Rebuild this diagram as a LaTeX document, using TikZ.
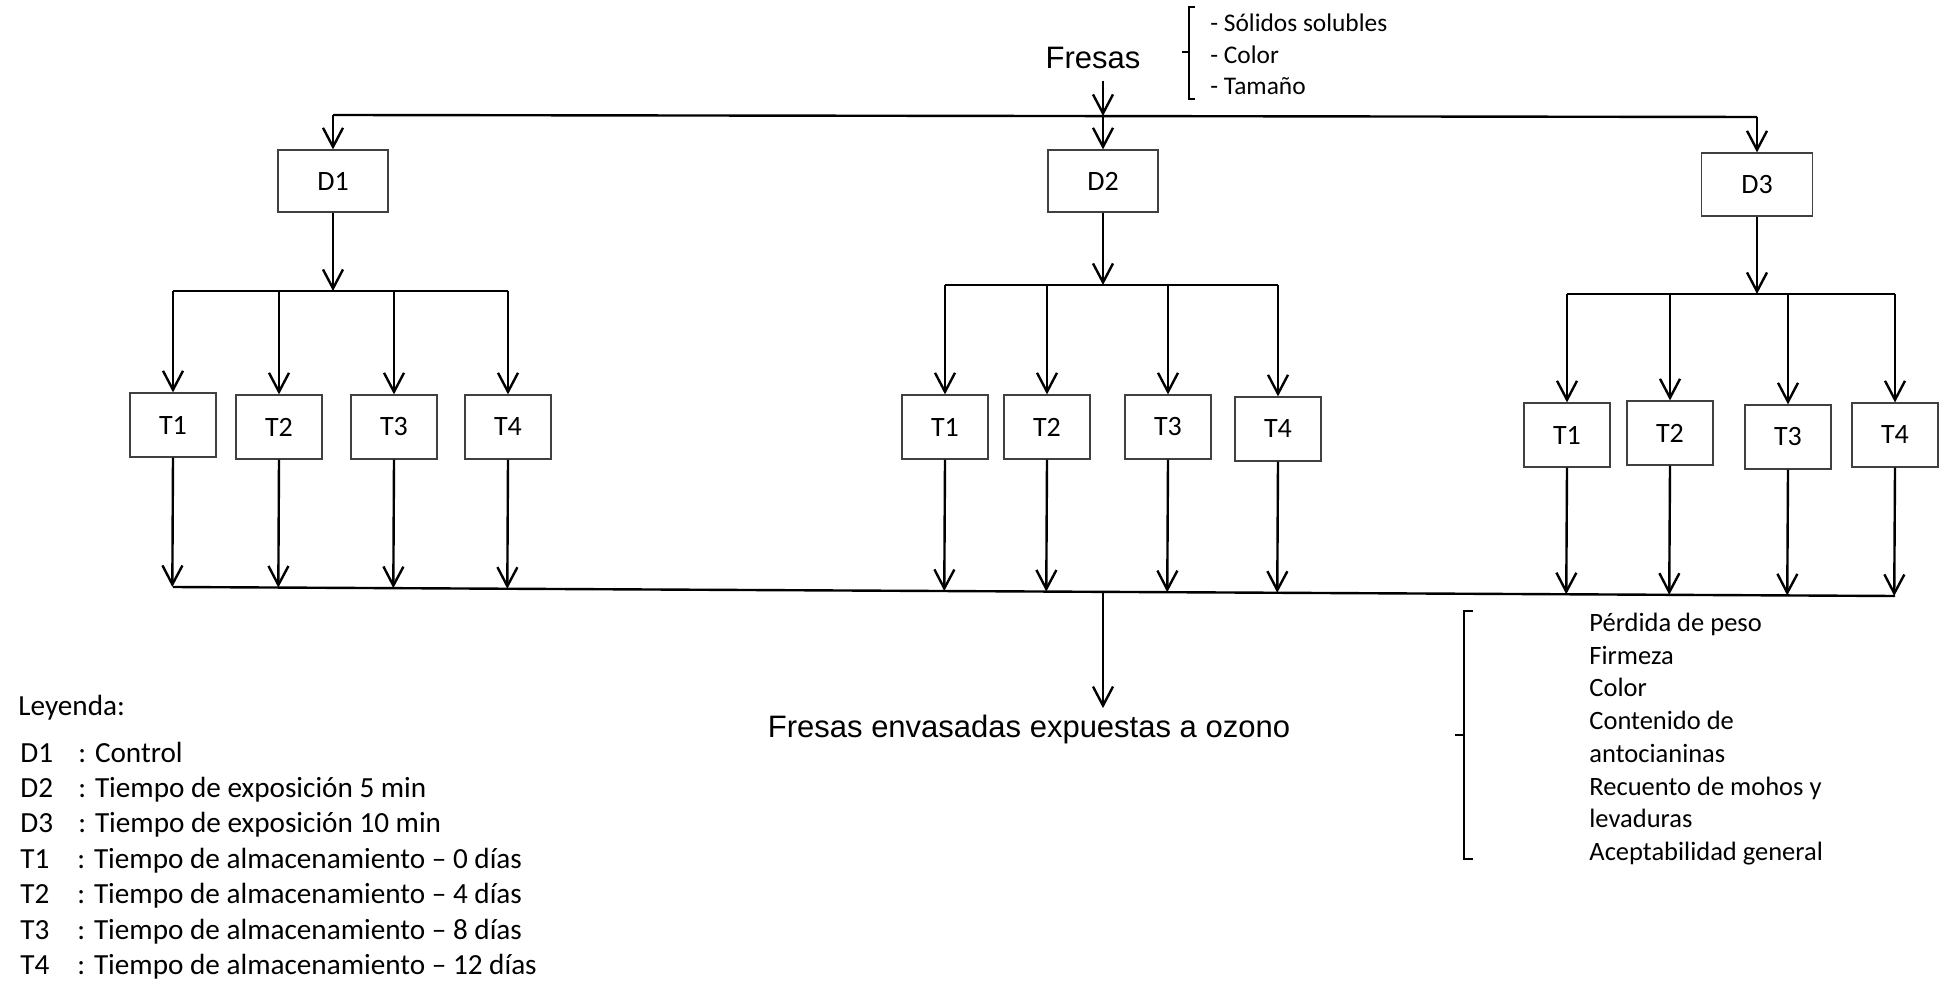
\documentclass[tikz,border=0pt]{standalone}
\usepackage{fontspec}
\setmainfont{Carlito}
\newfontfamily\arialf{Liberation Sans}
\usetikzlibrary{arrows.meta,calc}
\begin{document}
\begin{tikzpicture}[x=0.5pt,y=-0.5pt,
  conn/.style={line width=1.2pt},
  arr/.style={conn,-{Straight Barb[length=9.5pt,width=10pt]}},
  dbox/.style={draw=black!75,line width=0.6pt,minimum width=55pt,minimum height=31pt,inner sep=0pt,font=\fontsize{14}{16}\selectfont},
  tbox/.style={dbox,minimum width=43pt,minimum height=32pt},
  brk/.style={line width=0.8pt},
  leg/.style={anchor=base west,inner sep=0pt,font=\fontsize{14.6}{17}\selectfont},
  lst/.style={anchor=base west,inner sep=0pt,font=\fontsize{13.25}{16}\selectfont},
  toplist/.style={anchor=base west,inner sep=0pt,font=\fontsize{12.7}{15}\selectfont},
  big/.style={anchor=base,inner sep=0pt,font=\arialf\fontsize{15.5}{18}\selectfont}
]
\useasboundingbox (0,0) rectangle (1953,983);

% top
\node[big] (fresas) at (1093,69) {Fresas};
\coordinate (tl) at (333,115);
\coordinate (tm) at (1103,116);
\coordinate (tr) at (1757,117);
\draw[arr,shorten <=5.5pt] (fresas.south -| tm) -- (tm);
\draw[conn] (tl) -- (tr);

\node[toplist] (s1) at (1210,32) {- Sólidos solubles};
\node[toplist] (s2) at (1210,63.5) {- Color};
\node[toplist] (s3) at (1210,95) {- Tamaño};
\draw[brk] (1195,7) -- (1189,7) -- (1189,99) -- (1195,99);
\draw[brk] (1189,52) -- (1182,52);

% D boxes
\node[dbox] (D1) at (333,181) {D1};
\node[dbox] (D2) at (1103,181) {D2};
\node[dbox,minimum width=55.5pt,minimum height=31.5pt] (D3) at (1757,184.5) {D3};
\draw[arr] (tl) -- (D1.north);
\draw[arr] (tm) -- (D2.north);
\draw[arr] (tr) -- (D3.north);

% bars
\coordinate (b1) at (333,291);
\coordinate (b2) at (1103,285);
\coordinate (b3) at (1757,294);
\draw[arr] (D1.south) -- (b1);
\draw[arr] (D2.south) -- (b2);
\draw[arr] (D3.south) -- (b3);

% T boxes
\node[tbox] (T11) at (173,425) {T1};
\node[tbox] (T12) at (279,427) {T2};
\node[tbox] (T13) at (394,427) {T3};
\node[tbox] (T14) at (508,427) {T4};
\node[tbox] (T21) at (945,427) {T1};
\node[tbox] (T22) at (1047,427) {T2};
\node[tbox] (T23) at (1168,427) {T3};
\node[tbox] (T24) at (1278,429) {T4};
\node[tbox] (T31) at (1567,435) {T1};
\node[tbox] (T32) at (1670,433) {T2};
\node[tbox] (T33) at (1788,437) {T3};
\node[tbox] (T34) at (1895,435) {T4};

\foreach \g in {1,2,3}{
  \draw[conn] (T\g1 |- b\g) -- (T\g4 |- b\g);
  \foreach \j in {1,...,4}{
    \draw[arr] (T\g\j |- b\g) -- (T\g\j.north);
  }
}

% bottom line
\coordinate (bl) at (173,587);
\coordinate (br) at (1895,596);
\draw[conn] (bl) -- (br);
\foreach \g in {1,2,3}{
  \foreach \j in {1,...,4}{
    \draw[arr] (T\g\j.south) -- ($(bl)!(T\g\j.south)!(br)$);
  }
}
\coordinate (bm) at (1103,592);
\node[big] (out) at (1029,737) {Fresas envasadas expuestas a ozono};
\draw[arr,shorten >=3pt] (bm) -- (bm |- out.north);

% right list
\draw[brk] (1473,611) -- (1464,611) -- (1464,859) -- (1473,859);
\draw[brk] (1464,735) -- (1455,735);
\node[lst] (r1) at (1589,631.5) {Pérdida de peso};
\node[lst] (r2) at (1589,664.2) {Firmeza};
\node[lst] (r3) at (1589,696.9) {Color};
\node[lst] (r4) at (1589,729.6) {Contenido de};
\node[lst] (r5) at (1589,762.3) {antocianinas};
\node[lst] (r6) at (1589,795.0) {Recuento de mohos y};
\node[lst] (r7) at (1589,827.7) {levaduras};
\node[lst] (r8) at (1589,860.4) {Aceptabilidad general};

% legend
\node[leg] (ley) at (18,715) {Leyenda:};
\node[leg] (l1a) at (20,762) {D1};
\node[leg] (l1b) at (78,762) {: Control};
\node[leg] (l2a) at (20,797.4) {D2};
\node[leg] (l2b) at (78,797.4) {: Tiempo de exposición 5 min};
\node[leg] (l3a) at (20,832.8) {D3};
\node[leg] (l3b) at (78,832.8) {: Tiempo de exposición 10 min};
\node[leg] (l4a) at (20,868.2) {T1};
\node[leg] (l4b) at (77,868.2) {: Tiempo de almacenamiento – 0 días};
\node[leg] (l5a) at (20,903.6) {T2};
\node[leg] (l5b) at (77,903.6) {: Tiempo de almacenamiento – 4 días};
\node[leg] (l6a) at (20,939) {T3};
\node[leg] (l6b) at (77,939) {: Tiempo de almacenamiento – 8 días};
\node[leg] (l7a) at (20,974.4) {T4};
\node[leg] (l7b) at (77,974.4) {: Tiempo de almacenamiento – 12 días};
\end{tikzpicture}
\end{document}
